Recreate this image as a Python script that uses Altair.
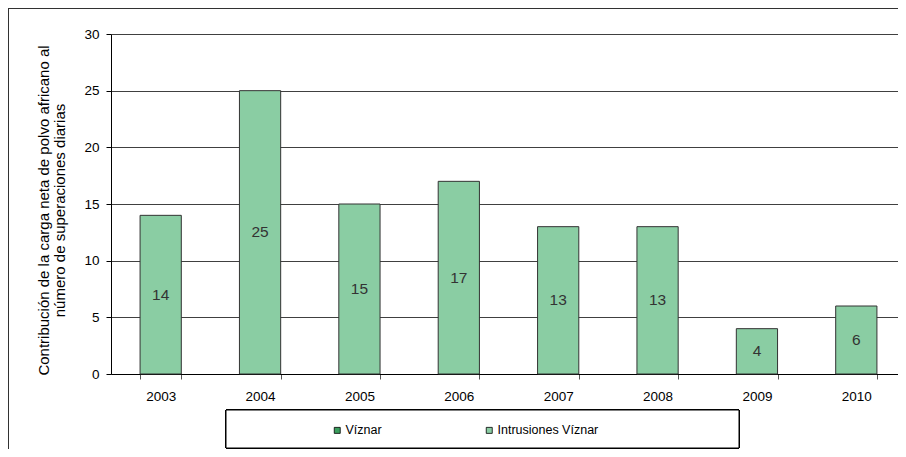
import altair as alt
import pandas as pd

years = ["2003", "2004", "2005", "2006", "2007", "2008", "2009", "2010"]
values = [14, 25, 15, 17, 13, 13, 4, 6]
series_names = ["Víznar", "Intrusiones Víznar"]
series_colors = ["#3a9d5d", "#8acda3"]
y_title = ["Contribución de la carga neta de polvo africano al", "número de superaciones diarias"]

df = pd.DataFrame({"year": years, "value": values, "series": "Intrusiones Víznar"})

W, H = 787, 340
FONT = "Liberation Sans"

xenc = alt.X("year:N", title=None, sort=years,
             scale=alt.Scale(range=[0, 795], paddingInner=0.585, paddingOuter=0.2925),
             axis=alt.Axis(labelAngle=0, labelFontSize=13.5, labelColor="#000", labelPadding=10,
                           tickBand="extent", tickSize=5, tickColor="#555", domainColor="#000",
                           grid=False))

base = alt.Chart(df)

bars = base.mark_bar(stroke="#333", strokeWidth=1).encode(
    x=xenc,
    y=alt.Y("value:Q", title=y_title,
            scale=alt.Scale(domain=[0, 30], nice=False),
            axis=alt.Axis(values=[0, 5, 10, 15, 20, 25, 30], labelFontSize=13.5, labelColor="#000",
                          labelPadding=7, tickSize=5, tickColor="#000", domainColor="#000",
                          gridColor="#404040", gridOpacity=1, titleFontSize=15,
                          titleLineHeight=16, titleY=176,
                          titleFontWeight="normal", titleColor="#000", titlePadding=16)),
    color=alt.Color("series:N", scale=alt.Scale(domain=series_names, range=series_colors),
                    legend=alt.Legend(title=None, orient="none", direction="horizontal",
                                      legendX=220, legendY=390, padding=0,
                                      symbolType="square", symbolSize=36,
                                      symbolStrokeColor="#000", symbolStrokeWidth=0.8,
                                      labelFontSize=12.5, labelColor="#000", labelOffset=2,
                                      columnPadding=101)),
)

labels = base.transform_calculate(mid="datum.value / 2").mark_text(
    fontSize=15.5, color="#333", font=FONT
).encode(x=alt.X("year:N", sort=years), y=alt.Y("mid:Q"), text=alt.Text("value:Q"))

frame_top = alt.Chart(df).mark_rule(color="#333", strokeWidth=1.5).encode(
    x=alt.value(-103), x2=alt.value(W), y=alt.value(-26))
frame_left = alt.Chart(df).mark_rule(color="#333", strokeWidth=1.5).encode(
    x=alt.value(-103), y=alt.value(-26), y2=alt.value(H + 80))
legend_box = alt.Chart(df).mark_rect(fill="white", stroke="#000", strokeWidth=1).encode(
    x=alt.value(115), x2=alt.value(628), y=alt.value(376), y2=alt.value(414))

chart = alt.layer(frame_top, frame_left, legend_box, bars, labels).properties(
    width=W, height=H,
    autosize=alt.AutoSizeParams(type="none"),
    padding={"left": 103, "top": 26, "right": 0, "bottom": 75},
).configure(font=FONT).configure_view(stroke="transparent")

chart.save("out.html", embed_options={"renderer": "svg", "actions": False})
